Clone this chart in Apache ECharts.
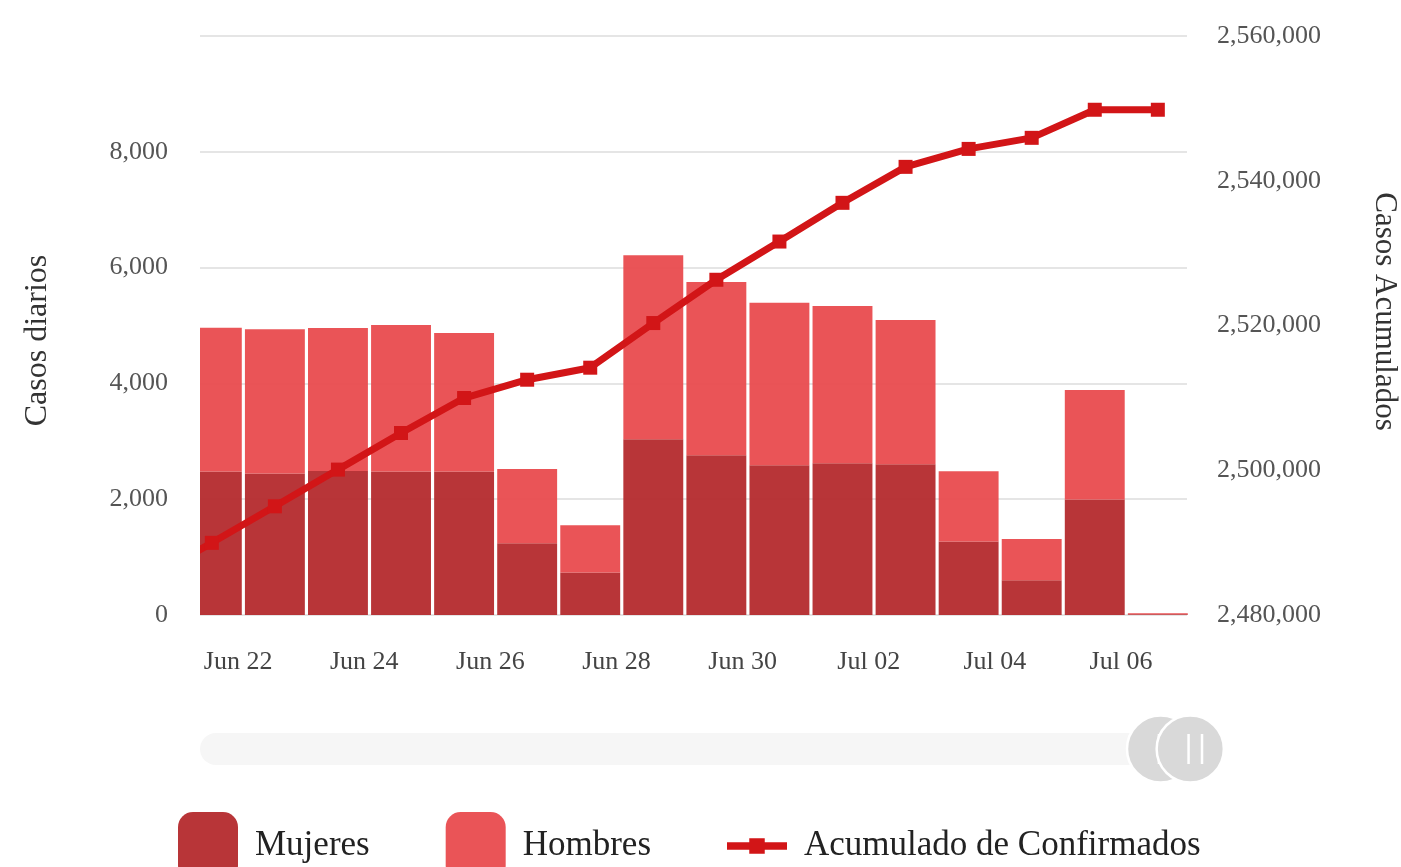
<!DOCTYPE html>
<html>
<head>
<meta charset="utf-8">
<script src="https://cdn.jsdelivr.net/npm/echarts@6/dist/echarts.min.js"></script>
<style>
html,body{margin:0;padding:0;background:#fff;}
#chart{width:1401px;height:867px;}
</style>
</head>
<body>
<div id="chart"></div>
<script>
// ---- data ----
var dates = ['2021-06-20','2021-06-21','2021-06-22','2021-06-23','2021-06-24','2021-06-25','2021-06-26','2021-06-27','2021-06-28','2021-06-29','2021-06-30','2021-07-01','2021-07-02','2021-07-03','2021-07-04','2021-07-05','2021-07-06'];
var mujeres = [null, 2477, 2442, 2487, 2477, 2477, 1238, 732, 3034, 2758, 2585, 2620, 2603, 1268, 600, 1995, 14];
var hombres = [null, 2486, 2492, 2470, 2531, 2393, 1283, 817, 3178, 2993, 2810, 2716, 2492, 1214, 711, 1891, 16];
var acumulado = [2485000, 2489970, 2495020, 2500090, 2505150, 2509980, 2512510, 2514170, 2520340, 2526320, 2531600, 2536950, 2541920, 2544400, 2545930, 2549810, 2549810];
var tickLabels = ['2021-06-22','2021-06-24','2021-06-26','2021-06-28','2021-06-30','2021-07-02','2021-07-04','2021-07-06'];
var seriesNames = ['Mujeres', 'Hombres', 'Acumulado de Confirmados'];
var leftAxisName = 'Casos diarios';
var rightAxisName = 'Casos Acumulados';

// ---- helpers ----
var HOUR = 3600 * 1000;
var MONTHS = ['Jan','Feb','Mar','Apr','May','Jun','Jul','Aug','Sep','Oct','Nov','Dec'];
function utc(s) { var p = s.split('-'); return Date.UTC(+p[0], +p[1] - 1, +p[2]); }
function fmt(v) { var d = new Date(v); var dd = d.getUTCDate(); return MONTHS[d.getUTCMonth()] + ' ' + (dd < 10 ? '0' : '') + dd; }
var pointOffset = 14 * HOUR; // reports are placed mid-afternoon of each day
// [value, time] so that the value dimension is the stacked one
function pairs(vals) { return vals.map(function (v, i) { return [v, utc(dates[i]) + pointOffset]; }); }

var FONT = 'Liberation Serif';
var chart = echarts.init(document.getElementById('chart'), null, {renderer: 'canvas'});
var option = {
  animation: false,
  backgroundColor: '#fff',
  grid: {left: 200, right: 214, top: 36, bottom: 252, containLabel: false, outerBoundsMode: 'none'},
  graphic: [
    // slider track with rounded ends
    {type: 'rect', z: 1, silent: true, shape: {x: 200, y: 733, width: 989, height: 32, r: 16}, style: {fill: '#f6f6f6'}},
    // clip the part of the first bar / line that runs past the left edge of the plot
    {type: 'rect', z: 50, silent: true, shape: {x: 174, y: 20, width: 26, height: 600}, style: {fill: '#ffffff'}}
  ],
  legend: {
    left: 173, top: 807,
    itemWidth: 60, itemHeight: 68, itemGap: 76,
    textStyle: {fontFamily: FONT, fontSize: 35, color: '#222', padding: [0, 0, 0, 12]},
    data: [
      {name: seriesNames[0], icon: 'roundRect'},
      {name: seriesNames[1], icon: 'roundRect'},
      {name: seriesNames[2], icon: 'path://M0,24L62,24L62,32L0,32Z M23,20L39,20L39,36L23,36Z'}
    ]
  },
  xAxis: [{
    type: 'value',
    min: utc('2021-06-21') + 9.5 * HOUR,
    max: utc('2021-07-07') + 1.1 * HOUR,
    axisLine: {show: false},
    axisTick: {show: false},
    splitLine: {show: false},
    axisLabel: {
      customValues: tickLabels.map(utc),
      margin: 34,
      fontFamily: FONT, fontSize: 26, color: '#444',
      formatter: function (v) { return fmt(v); }
    }
  }, {
    type: 'value', min: 0, max: 100, show: false, gridIndex: 0
  }],
  yAxis: [{
    type: 'value', min: 0, max: 10000, interval: 2000,
    name: leftAxisName, nameLocation: 'middle', nameGap: 146, nameRotate: 90,
    nameTextStyle: {fontFamily: FONT, fontSize: 32, color: '#333', padding: [0, 30, 0, 0]},
    axisLine: {show: false}, axisTick: {show: false},
    axisLabel: {showMaxLabel: false, margin: 32, fontFamily: FONT, fontSize: 26, color: '#555'},
    splitLine: {lineStyle: {color: '#dcdcdc', width: 1.5}}
  }, {
    type: 'value', min: 2480000, max: 2560000, interval: 20000,
    name: rightAxisName, nameLocation: 'middle', nameGap: 182, nameRotate: -90,
    nameTextStyle: {fontFamily: FONT, fontSize: 31, color: '#333', padding: [0, 28, 0, 0]},
    axisLine: {show: false}, axisTick: {show: false},
    axisLabel: {margin: 30, fontFamily: FONT, fontSize: 26, color: '#555'},
    splitLine: {show: false}
  }],
  dataZoom: [{
    type: 'slider', xAxisIndex: 1, filterMode: 'none', z: 5,
    start: 96.8, end: 100,
    left: 200, right: 212, top: 733, height: 32,
    backgroundColor: 'rgba(0,0,0,0)', borderColor: 'transparent',
    fillerColor: 'rgba(0,0,0,0)',
    showDetail: false, showDataShadow: false, brushSelect: false, moveHandleSize: 0,
    dataBackground: {lineStyle: {opacity: 0}, areaStyle: {opacity: 0}},
    handleIcon: 'path://M0,-1A1,1,0,1,1,0,1A1,1,0,1,1,0,-1Z M-0.05,-0.45L-0.05,0.45 M0.35,-0.45L0.35,0.45',
    handleSize: '210%',
    handleStyle: {color: '#d9d9d9', borderColor: '#ffffff', borderWidth: 2.5},
    emphasis: {handleStyle: {color: '#d9d9d9', borderColor: '#ffffff', borderWidth: 2.5}}
  }],
  series: [{
    name: seriesNames[0], type: 'bar', stack: 'casos', xAxisIndex: 0, yAxisIndex: 0,
    encode: {x: 1, y: 0},
    barWidth: '95%', data: pairs(mujeres),
    itemStyle: {color: '#b42a2d', opacity: 0.95}
  }, {
    name: seriesNames[1], type: 'bar', stack: 'casos', xAxisIndex: 0, yAxisIndex: 0,
    encode: {x: 1, y: 0},
    barWidth: '95%', data: pairs(hombres),
    itemStyle: {color: '#e94b4e', opacity: 0.95}
  }, {
    name: seriesNames[2], type: 'line', xAxisIndex: 0, yAxisIndex: 1,
    encode: {x: 1, y: 0},
    data: pairs(acumulado), z: 5,
    symbol: 'rect', symbolSize: 14, showAllSymbol: true,
    lineStyle: {color: '#d21517', width: 7},
    itemStyle: {color: '#d21517'}
  }]
};
chart.setOption(option);
</script>
</body>
</html>
